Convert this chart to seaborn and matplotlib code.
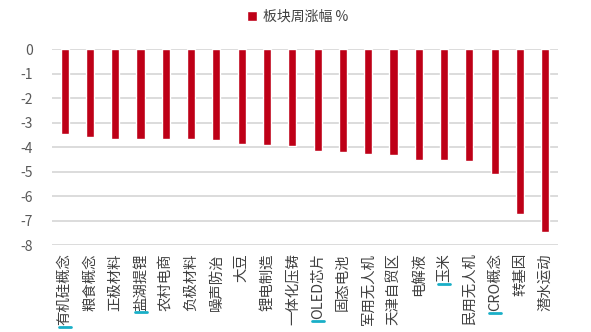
import matplotlib
matplotlib.use("Agg")
import matplotlib.pyplot as plt
from matplotlib.lines import Line2D
import seaborn as sns
import pandas as pd

# Weekly sector performance (%), sorted from smallest to largest decline
sectors = ["有机硅概念", "粮食概念", "正极材料", "盐湖提锂", "农村电商", "负极材料", "噪声防治",
           "大豆", "锂电制造", "一体化压铸", "OLED芯片", "固态电池", "军用无人机", "天津自贸区",
           "电解液", "玉米", "民用无人机", "CRO概念", "转基因", "潜水运动"]
weekly_change = [-3.48, -3.58, -3.65, -3.67, -3.67, -3.67, -3.70, -3.86, -3.93, -3.97,
                 -4.15, -4.19, -4.27, -4.31, -4.53, -4.53, -4.57, -5.10, -6.72, -7.48]
marked = ["有机硅概念", "盐湖提锂", "OLED芯片", "玉米", "CRO概念"]
series_name = "板块周涨幅 %"
y_ticks = [0, -1, -2, -3, -4, -5, -6, -7, -8]

df = pd.DataFrame({"板块": sectors, "涨幅": weekly_change})

sns.set_theme(style="white")
plt.rcParams["font.family"] = ["Noto Sans CJK SC", "DejaVu Sans"]
plt.rcParams["axes.unicode_minus"] = False

fig = plt.figure(figsize=(5.91, 3.32), dpi=100)
ax = fig.add_axes([0.088, 0.262, 0.856, 0.590])

sns.barplot(data=df, x="板块", y="涨幅", color="#BE0017", width=0.32,
            saturation=1, label=series_name, ax=ax)

ax.set_ylim(-8, 0)
ax.set_xlim(-0.5, len(sectors) - 0.5)
ax.set_yticks(y_ticks)
ax.set_yticklabels([str(v) for v in y_ticks])
ax.set_xlabel("")
ax.set_ylabel("")
for s in ax.spines.values():
    s.set_visible(False)
ax.yaxis.grid(True, color="#D9D9D9", linewidth=1.3)
ax.set_axisbelow(True)
ax.tick_params(axis="y", length=0, pad=14, labelsize=10, labelcolor="#595959")
ax.tick_params(axis="x", length=0, pad=6, labelsize=10.4, labelcolor="#404040")
ax.set_xticks(range(len(sectors)))
ax.set_xticklabels(sectors, rotation=90, va="top", ha="center")

ax.legend(loc="upper center", bbox_to_anchor=(0.485, 1.265), frameon=False,
          fontsize=10, handlelength=0.75, handleheight=0.75, handletextpad=0.4,
          labelcolor="#404040")

# cyan marker under selected labels
fig.canvas.draw()
W, H = fig.canvas.get_width_height()
for lbl in ax.get_xticklabels():
    if lbl.get_text() in marked:
        bb = lbl.get_window_extent()
        xc = (bb.x0 + bb.x1) / 2
        y = bb.y0 - 1.5
        fig.add_artist(Line2D([(xc - 6) / W, (xc + 6) / W], [y / H, y / H],
                              color="#19AFC7", linewidth=2.0,
                              transform=fig.transFigure))

fig.savefig("out.png", dpi=100)
